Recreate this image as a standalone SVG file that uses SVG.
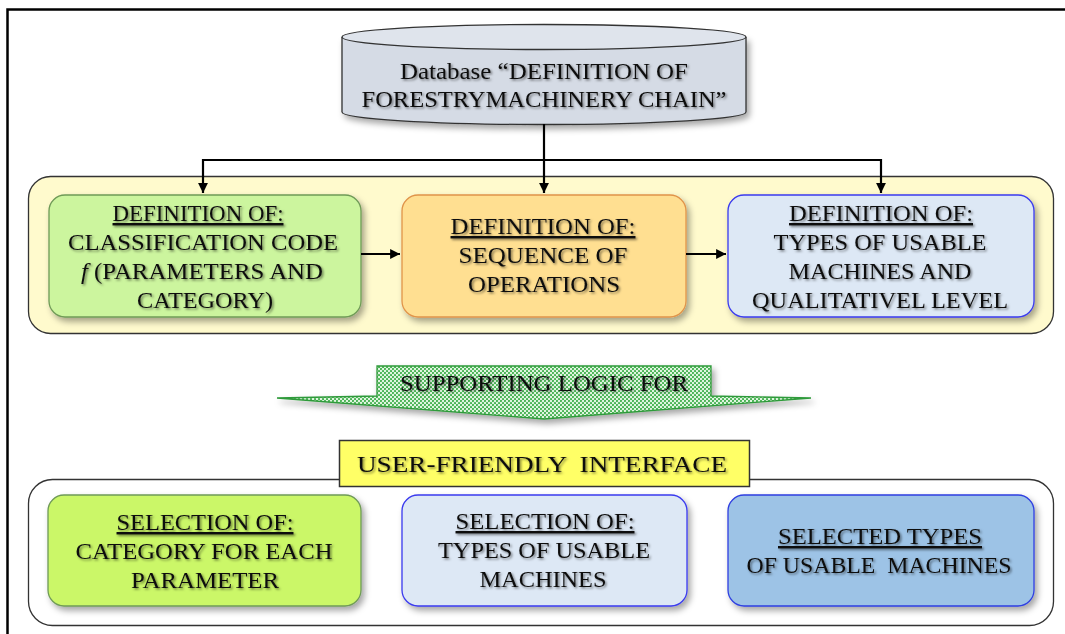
<svg xmlns="http://www.w3.org/2000/svg" width="1065" height="634" viewBox="0 0 1065 634">
  <defs>
    <filter id="boxShadow" x="-10%" y="-10%" width="125%" height="135%">
      <feDropShadow dx="3" dy="4" stdDeviation="3" flood-color="#000" flood-opacity="0.35"/>
    </filter>
    <filter id="txtShadow" x="-5%" y="-20%" width="110%" height="150%">
      <feDropShadow dx="1.5" dy="1.5" stdDeviation="0.9" flood-color="#000" flood-opacity="0.5"/>
    </filter>
    <pattern id="dots" width="4" height="4" patternUnits="userSpaceOnUse">
      <rect width="4" height="4" fill="#dff5df"/>
      <circle cx="1" cy="1" r="1.05" fill="#3fae4b"/>
      <circle cx="3" cy="3" r="1.05" fill="#3fae4b"/>
    </pattern>
    <marker id="arrow" viewBox="0 0 10 10" refX="10" refY="5" markerWidth="4.5" markerHeight="4.5" orient="auto" markerUnits="strokeWidth">
      <path d="M0,0 L10,5 L0,10 z" fill="#000"/>
    </marker>
  </defs>
  <style>
    text { font-family: "Liberation Serif", "Times New Roman", serif; fill: #111; text-anchor: middle; }
    .lbl { font-size: 24px; filter: url(#txtShadow); }
    .hd { text-decoration: underline; }
    .box { filter: url(#boxShadow); }
    .conn { stroke: #000; stroke-width: 2.2; fill: none; }
  </style>

  <rect width="1065" height="634" fill="#fff"/>
  <!-- page frame -->
  <path d="M7.5,634 L7.5,9.5 L1065,9.5" fill="none" stroke="#000" stroke-width="2.5"/>

  <!-- database cylinder -->
  <g id="database">
    <path d="M342,37 L342,112 A202,12.5 0 0 0 746,112 L746,37" fill="#d5dbe5" stroke="#333" stroke-width="1.3" class="box"/>
    <ellipse cx="544" cy="37" rx="202" ry="12.5" fill="#dfe4ec" stroke="#333" stroke-width="1.3"/>
    <text class="lbl" x="544" y="79" textLength="288" lengthAdjust="spacingAndGlyphs">Database “DEFINITION OF</text>
    <text class="lbl" x="544" y="107" textLength="365" lengthAdjust="spacingAndGlyphs">FORESTRYMACHINERY CHAIN”</text>
  </g>

  <!-- definition panel -->
  <g id="definition-panel">
    <rect x="28.5" y="176.5" width="1025" height="157" rx="22" fill="#fffacd" stroke="#333" stroke-width="1.3"/>
  </g>

  <g id="def-classification">
    <rect class="box" x="49" y="195" width="312" height="122" rx="16" fill="#ccf59e" stroke="#6f9a57" stroke-width="1.3"/>
    <text class="lbl hd" x="198" y="221" textLength="171" lengthAdjust="spacingAndGlyphs">DEFINITION OF:</text>
    <text class="lbl" x="203" y="250" textLength="270" lengthAdjust="spacingAndGlyphs">CLASSIFICATION CODE</text>
    <text class="lbl" x="202" y="279" textLength="242" lengthAdjust="spacingAndGlyphs"><tspan font-style="italic">f</tspan> (PARAMETERS AND</text>
    <text class="lbl" x="205" y="308" textLength="136" lengthAdjust="spacingAndGlyphs">CATEGORY)</text>
  </g>

  <g id="def-sequence">
    <rect class="box" x="402" y="195" width="284" height="122" rx="16" fill="#ffdf91" stroke="#e0944a" stroke-width="1.3"/>
    <text class="lbl hd" x="543" y="234" textLength="185" lengthAdjust="spacingAndGlyphs">DEFINITION OF:</text>
    <text class="lbl" x="543" y="263" textLength="169" lengthAdjust="spacingAndGlyphs">SEQUENCE OF</text>
    <text class="lbl" x="544" y="292" textLength="152" lengthAdjust="spacingAndGlyphs">OPERATIONS</text>
  </g>

  <g id="def-types">
    <rect class="box" x="728" y="195" width="306" height="122" rx="16" fill="#dde8f5" stroke="#3a3aee" stroke-width="1.3"/>
    <text class="lbl hd" x="881" y="221" textLength="184" lengthAdjust="spacingAndGlyphs">DEFINITION OF:</text>
    <text class="lbl" x="880" y="250" textLength="213" lengthAdjust="spacingAndGlyphs">TYPES OF USABLE</text>
    <text class="lbl" x="880" y="279" textLength="183" lengthAdjust="spacingAndGlyphs">MACHINES AND</text>
    <text class="lbl" x="880" y="308" textLength="256" lengthAdjust="spacingAndGlyphs">QUALITATIVEL LEVEL</text>
  </g>

  <!-- supporting logic arrow -->
  <g id="supporting-logic">
    <path class="box" d="M377,366 L711,366 L711,396 L811,398 L544,419 L277,398 L377,396 Z" fill="url(#dots)" stroke="#2f9a3a" stroke-width="1.3"/>
    <text class="lbl" x="544" y="391" font-size="22" textLength="288" lengthAdjust="spacingAndGlyphs">SUPPORTING LOGIC FOR</text>
  </g>

  <!-- interface panel -->
  <g id="interface-panel">
    <rect x="28.5" y="479.5" width="1025" height="146" rx="24" fill="#fff" stroke="#333" stroke-width="1.3"/>
  </g>

  <g id="interface-title">
    <rect x="339.5" y="440.5" width="410" height="46" fill="#ffff66" stroke="#333" stroke-width="1.5"/>
    <text class="lbl" x="542" y="472" font-size="25" textLength="370" lengthAdjust="spacingAndGlyphs" xml:space="preserve">USER-FRIENDLY  INTERFACE</text>
  </g>

  <g id="sel-category">
    <rect class="box" x="48" y="495" width="313" height="111" rx="16" fill="#cbf768" stroke="#6f9a57" stroke-width="1.3"/>
    <text class="lbl hd" x="205" y="530" textLength="177" lengthAdjust="spacingAndGlyphs">SELECTION OF:</text>
    <text class="lbl" x="204" y="559" textLength="257" lengthAdjust="spacingAndGlyphs">CATEGORY FOR EACH</text>
    <text class="lbl" x="205" y="588" textLength="148" lengthAdjust="spacingAndGlyphs">PARAMETER</text>
  </g>

  <g id="sel-types">
    <rect class="box" x="402" y="495" width="285" height="111" rx="16" fill="#dde8f5" stroke="#3a3aee" stroke-width="1.3"/>
    <text class="lbl hd" x="545" y="529" textLength="179" lengthAdjust="spacingAndGlyphs">SELECTION OF:</text>
    <text class="lbl" x="544" y="558" textLength="212" lengthAdjust="spacingAndGlyphs">TYPES OF USABLE</text>
    <text class="lbl" x="543" y="587" textLength="127" lengthAdjust="spacingAndGlyphs">MACHINES</text>
  </g>

  <g id="selected-types">
    <rect class="box" x="728" y="495" width="306" height="111" rx="16" fill="#9dc3e6" stroke="#2f3fe0" stroke-width="1.3"/>
    <text class="lbl hd" x="880" y="544" textLength="204" lengthAdjust="spacingAndGlyphs">SELECTED TYPES</text>
    <text class="lbl" x="879" y="573" textLength="265" lengthAdjust="spacingAndGlyphs" xml:space="preserve">OF USABLE  MACHINES</text>
  </g>

  <!-- connectors -->
  <g id="connectors">
    <path class="conn" d="M544,124 L544,193" marker-end="url(#arrow)"/>
    <path class="conn" d="M203,160 L881,160"/>
    <path class="conn" d="M203,159 L203,193" marker-end="url(#arrow)"/>
    <path class="conn" d="M881,159 L881,193" marker-end="url(#arrow)"/>
    <path class="conn" d="M361,254 L400,254" marker-end="url(#arrow)"/>
    <path class="conn" d="M686,254 L726,254" marker-end="url(#arrow)"/>
  </g>
</svg>
